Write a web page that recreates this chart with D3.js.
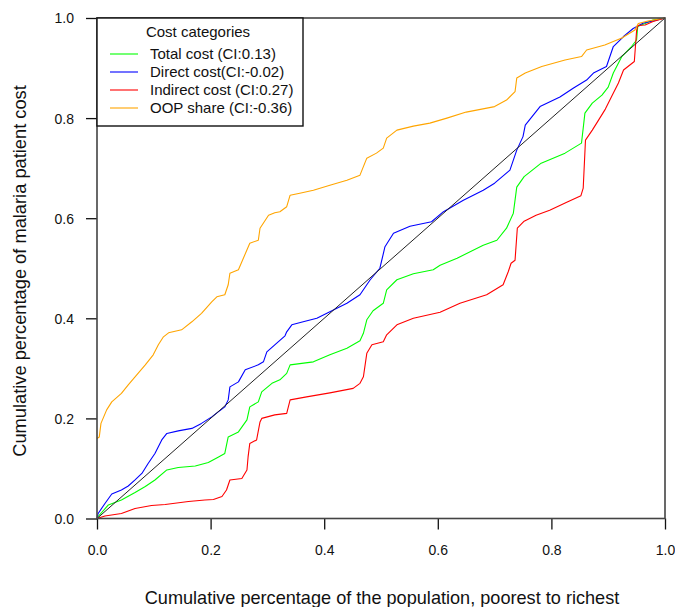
<!DOCTYPE html>
<html>
<head>
<meta charset="utf-8">
<script src="https://cdn.jsdelivr.net/npm/d3@7"></script>
<style>
  html, body { margin: 0; padding: 0; background: #fff; }
  svg { display: block; font-family: "Liberation Sans", Arial, sans-serif; }
</style>
</head>
<body>
<svg id="chart" width="675" height="607"></svg>
<script>
// ---- data ----
const xTicks = [0, 0.2, 0.4, 0.6, 0.8, 1.0];
const yTicks = [0, 0.2, 0.4, 0.6, 0.8, 1.0];

const equality = [[0, 0], [1, 1]];

const totalCost = [
  [0,0],[0.002,0.004],[0.02,0.027],[0.043,0.037],[0.067,0.052],[0.085,0.064],[0.102,0.077],
  [0.123,0.097],[0.143,0.102],[0.173,0.105],[0.196,0.112],[0.214,0.123],[0.225,0.13],
  [0.231,0.163],[0.249,0.173],[0.264,0.197],[0.269,0.223],[0.284,0.233],[0.29,0.253],
  [0.308,0.27],[0.322,0.277],[0.334,0.29],[0.34,0.307],[0.381,0.313],[0.41,0.327],
  [0.44,0.34],[0.463,0.355],[0.469,0.37],[0.475,0.397],[0.486,0.415],[0.504,0.43],
  [0.51,0.457],[0.528,0.477],[0.557,0.489],[0.592,0.497],[0.604,0.506],[0.634,0.52],
  [0.68,0.546],[0.704,0.556],[0.721,0.58],[0.733,0.61],[0.739,0.662],[0.752,0.683],
  [0.782,0.71],[0.824,0.73],[0.853,0.75],[0.859,0.81],[0.872,0.83],[0.889,0.846],
  [0.9,0.862],[0.909,0.89],[0.924,0.923],[0.941,0.943],[0.95,0.956],[0.952,0.983],
  [0.965,0.989],[0.979,0.996],[1,1]
];

const directCost = [
  [0,0],[0.002,0.01],[0.014,0.03],[0.026,0.049],[0.043,0.057],[0.055,0.065],[0.067,0.077],
  [0.079,0.09],[0.09,0.11],[0.102,0.13],[0.114,0.157],[0.123,0.17],[0.143,0.175],
  [0.167,0.18],[0.184,0.19],[0.202,0.203],[0.225,0.223],[0.231,0.237],[0.234,0.263],
  [0.249,0.273],[0.261,0.297],[0.284,0.307],[0.293,0.313],[0.299,0.333],[0.313,0.347],
  [0.331,0.365],[0.334,0.373],[0.343,0.387],[0.363,0.393],[0.387,0.4],[0.41,0.413],
  [0.44,0.43],[0.463,0.447],[0.481,0.477],[0.498,0.5],[0.507,0.543],[0.522,0.57],
  [0.551,0.584],[0.589,0.593],[0.61,0.613],[0.645,0.636],[0.68,0.656],[0.7,0.67],
  [0.727,0.696],[0.739,0.736],[0.75,0.763],[0.754,0.786],[0.78,0.823],[0.815,0.842],
  [0.839,0.86],[0.862,0.876],[0.874,0.89],[0.897,0.903],[0.909,0.943],[0.927,0.963],
  [0.944,0.979],[0.962,0.99],[0.979,0.994],[1,1]
];

const indirectCost = [
  [0,0],[0.014,0.005],[0.043,0.01],[0.067,0.02],[0.096,0.026],[0.12,0.028],[0.161,0.034],
  [0.19,0.037],[0.205,0.038],[0.22,0.044],[0.228,0.057],[0.234,0.077],[0.255,0.08],
  [0.264,0.097],[0.266,0.123],[0.269,0.15],[0.281,0.157],[0.287,0.193],[0.29,0.2],
  [0.313,0.207],[0.334,0.21],[0.34,0.237],[0.369,0.243],[0.41,0.251],[0.451,0.26],
  [0.463,0.27],[0.469,0.283],[0.475,0.33],[0.484,0.347],[0.504,0.353],[0.51,0.367],
  [0.528,0.387],[0.557,0.4],[0.604,0.412],[0.639,0.43],[0.686,0.447],[0.715,0.467],
  [0.724,0.493],[0.729,0.51],[0.736,0.516],[0.74,0.58],[0.752,0.594],[0.773,0.606],
  [0.797,0.616],[0.827,0.632],[0.852,0.645],[0.856,0.66],[0.86,0.756],[0.872,0.776],
  [0.883,0.796],[0.895,0.818],[0.906,0.843],[0.918,0.87],[0.927,0.896],[0.946,0.913],
  [0.95,0.975],[0.952,0.985],[0.965,0.986],[0.979,0.993],[1,1]
];

const oopShare = [
  [0,0.16],[0.004,0.163],[0.007,0.19],[0.017,0.217],[0.026,0.233],[0.043,0.25],[0.055,0.267],
  [0.067,0.283],[0.085,0.307],[0.099,0.327],[0.108,0.347],[0.117,0.363],[0.126,0.371],
  [0.149,0.377],[0.167,0.393],[0.184,0.41],[0.202,0.433],[0.211,0.443],[0.225,0.447],
  [0.231,0.467],[0.234,0.49],[0.249,0.497],[0.269,0.55],[0.284,0.556],[0.287,0.58],
  [0.302,0.606],[0.313,0.611],[0.322,0.613],[0.334,0.623],[0.34,0.646],[0.357,0.65],
  [0.381,0.656],[0.41,0.666],[0.44,0.676],[0.463,0.686],[0.469,0.703],[0.475,0.72],
  [0.492,0.73],[0.504,0.74],[0.51,0.76],[0.528,0.776],[0.557,0.784],[0.586,0.79],
  [0.616,0.8],[0.65,0.812],[0.7,0.823],[0.721,0.836],[0.736,0.853],[0.739,0.88],
  [0.754,0.89],[0.783,0.903],[0.824,0.916],[0.853,0.923],[0.862,0.936],[0.894,0.946],
  [0.924,0.96],[0.947,0.976],[0.953,0.989],[0.97,0.994],[1,1]
];

const seriesNames = ["Total cost (CI:0.13)", "Direct cost(CI:-0.02)", "Indirect cost (CI:0.27)", "OOP share (CI:-0.36)"];
const seriesColors = ["#00ff00", "#0000ff", "#ff0000", "#ffa500"];
const seriesData = [totalCost, directCost, indirectCost, oopShare];
const legendTitle = "Cost categories";
const xTitle = "Cumulative percentage of the population, poorest to richest";
const yTitle = "Cumulative percentage of malaria patient cost";

// ---- layout ----
const padL = 97, padR = 665, padT = 18, padB = 518.5;
const svg = d3.select("#chart");

const x = d3.scaleLinear().domain([0, 1]).range([padL, padR]);
const y = d3.scaleLinear().domain([0, 1]).range([padB, padT]);

const line = d3.line().x(d => x(d[0])).y(d => y(d[1]));

// curves
const plot = svg.append("g");
seriesData.forEach((s, i) => {
  plot.append("path").datum(s)
    .attr("fill", "none").attr("stroke", seriesColors[i])
    .attr("stroke-width", 1.1).attr("stroke-linejoin", "round")
    .attr("d", line);
});
plot.append("path").datum(equality)
  .attr("fill", "none").attr("stroke", "#222").attr("stroke-width", 1)
  .attr("d", line);

// axes
const xAxis = svg.append("g").attr("transform", `translate(0,${padB})`)
  .call(d3.axisBottom(x).tickValues(xTicks).tickSize(11).tickFormat(d3.format(".1f")));
xAxis.select(".domain").remove();
xAxis.selectAll(".tick line").attr("stroke", "#111").attr("stroke-width", 1.3);
xAxis.selectAll(".tick text").attr("y", 32).attr("dy", "0.35em")
  .attr("font-size", 14).attr("fill", "#111").attr("font-family", "Liberation Sans, Arial, sans-serif");

const yAxis = svg.append("g").attr("transform", `translate(${padL},0)`)
  .call(d3.axisLeft(y).tickValues(yTicks).tickSize(11).tickFormat(d3.format(".1f")));
yAxis.select(".domain").remove();
yAxis.selectAll(".tick line").attr("stroke", "#111").attr("stroke-width", 1.3);
yAxis.selectAll(".tick text").attr("x", -23).attr("dy", "0.35em")
  .attr("font-size", 14).attr("fill", "#111").attr("font-family", "Liberation Sans, Arial, sans-serif");

// frame
svg.append("rect").attr("x", padL).attr("y", padT)
  .attr("width", padR - padL).attr("height", padB - padT)
  .attr("fill", "none").attr("stroke", "#444").attr("stroke-width", 1.6);

// legend
const lg = svg.append("g");
lg.append("rect").attr("x", padL).attr("y", padT).attr("width", 206).attr("height", 108)
  .attr("fill", "#fff").attr("stroke", "#111").attr("stroke-width", 1.4);
lg.append("text").attr("x", 198).attr("y", 32).attr("dy", "0.35em")
  .attr("text-anchor", "middle").attr("font-size", 15).attr("fill", "#111").text(legendTitle);
seriesNames.forEach((name, i) => {
  const cy = 54 + i * 18;
  lg.append("line").attr("x1", 110).attr("x2", 138).attr("y1", cy).attr("y2", cy)
    .attr("stroke", seriesColors[i]).attr("stroke-width", 1.1);
  lg.append("text").attr("x", 150).attr("y", cy).attr("dy", "0.35em")
    .attr("font-size", 15).attr("fill", "#111").text(name);
});

// titles, sized to match the reference width
function fitText(sel, targetW, base) {
  const w = sel.node().getComputedTextLength();
  sel.attr("font-size", base * targetW / w);
}
const xt = svg.append("text").attr("x", 382).attr("y", 598).attr("dy", "0.35em")
  .attr("text-anchor", "middle").attr("font-size", 16).attr("fill", "#111").text(xTitle);
fitText(xt, 475, 16);
const yt = svg.append("text").attr("transform", "translate(20,271) rotate(-90)").attr("dy", "0.35em")
  .attr("text-anchor", "middle").attr("font-size", 16).attr("fill", "#111").text(yTitle);
fitText(yt, 372, 16);
</script>
</body>
</html>
